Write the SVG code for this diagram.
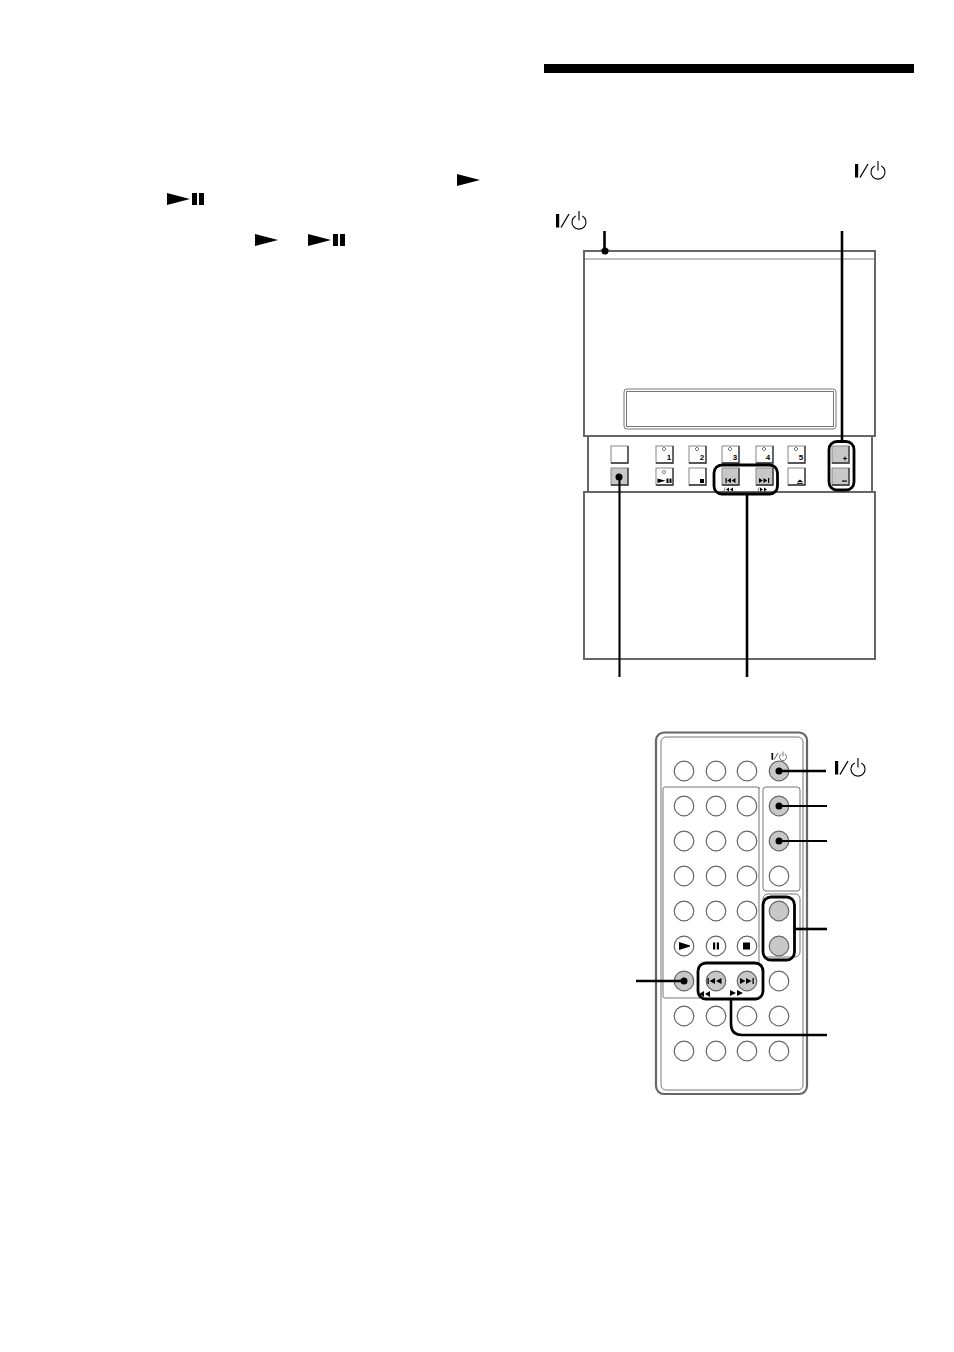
<svg xmlns="http://www.w3.org/2000/svg" xmlns:xlink="http://www.w3.org/1999/xlink" width="954" height="1352" viewBox="0 0 954 1352">
<style>
.body{fill:#fff;stroke:#666;stroke-width:2}
.thin{fill:none;stroke:#777;stroke-width:1}
.btn{fill:#fff;stroke:#888;stroke-width:1}
.edge{fill:none;stroke:#333;stroke-width:1.3}
.g{fill:#c8c8c8}
.rb{fill:#fff;stroke:#666;stroke-width:1.2}
.rg{fill:#c8c8c8;stroke:#666;stroke-width:1.2}
.k{fill:none;stroke:#000;stroke-width:2.6}
.ks{fill:none;stroke:#000;stroke-width:2.1}
.box{fill:none;stroke:#000;stroke-width:2.8}
.num{font:bold 8px "Liberation Sans",Arial,sans-serif;fill:#000;text-anchor:middle;opacity:.99}
.d{fill:none;stroke:#555;stroke-width:.8}
</style>
<defs>
<g id="power"><rect x="0" y="3" width="3.200" height="13.500" fill="#000"/><path d="M5 16.500L13 3" stroke="#000" stroke-width="1.300"/><path d="M19.700 5A7 7 0 1 0 26.300 5M23 0V9.500" fill="none" stroke="#000" stroke-width="1.100"/></g>
<path id="play" d="M0 0L23 6L0 12Z" fill="#000"/>
<g id="pp"><use xlink:href="#play"/><rect x="25" y="0" width="5" height="12" fill="#000"/><rect x="32" y="0" width="5" height="12" fill="#000"/></g>
<g id="b"><rect class="btn" width="17" height="17"/><path class="edge" d="M0 17H17V0"/></g>
<g id="bg"><rect class="btn g" width="17" height="17"/><path class="edge" d="M0 17H17V0"/></g>
<path id="dia" class="d" d="M0-2L2 0L0 2L-2 0Z"/>
<path id="prev" d="M0 0h1.200v5h-1.200zM5.500 0v5l-3.800-2.500zM10 0v5l-3.800-2.500z" fill="#000"/>
<path id="next" d="M0 0v5l3.800-2.500zM4.500 0v5l3.800-2.500zM9 0h1.200v5h-1.200z" fill="#000"/>
<circle id="r" class="rb" r="9.800"/>
<circle id="rg" class="rg" r="9.800"/>
</defs>

<rect id="title-bar" x="544" y="64" width="370" height="9" fill="#000"/>

<g id="inline-symbols">
<use xlink:href="#play" x="457" y="174"/>
<use xlink:href="#pp" x="167" y="193"/>
<use xlink:href="#play" x="255" y="234"/>
<use xlink:href="#pp" x="308" y="234"/>
<use xlink:href="#power" x="855" y="161"/>
<use xlink:href="#power" x="556" y="211"/>
</g>

<g id="unit">
<g id="unit-top"><rect class="body" x="584" y="251" width="291" height="185"/>
<path d="M585 259H874" stroke="#aaa" stroke-width="1.500"/>
<rect class="thin" x="624" y="389" width="212" height="40" rx="3"/>
<rect class="thin" x="626.500" y="391.500" width="207" height="35"/></g>
<g id="unit-mid"><path class="body" d="M588 436V492M872 436V492"/></g>
<g id="unit-bottom"><rect class="body" x="584" y="492" width="291" height="167"/></g>
<g id="unit-led"><rect x="600" y="249.500" width="10" height="2" rx="1" fill="#666"/></g>
<g id="unit-buttons">
<use xlink:href="#b" x="611" y="446"/>
<use xlink:href="#bg" x="611" y="468"/>
<use xlink:href="#b" x="656" y="446"/><use xlink:href="#dia" x="664" y="449"/><text class="num" x="669" y="460">1</text>
<use xlink:href="#b" x="689" y="446"/><use xlink:href="#dia" x="697" y="449"/><text class="num" x="702" y="460">2</text>
<use xlink:href="#b" x="722" y="446"/><use xlink:href="#dia" x="730" y="449"/><text class="num" x="735" y="460">3</text>
<use xlink:href="#b" x="756" y="446"/><use xlink:href="#dia" x="764" y="449"/><text class="num" x="768" y="460">4</text>
<use xlink:href="#b" x="788" y="446"/><use xlink:href="#dia" x="796" y="449"/><text class="num" x="801" y="460">5</text>
<use xlink:href="#b" x="656" y="468"/><use xlink:href="#dia" x="664" y="472"/>
<path d="M657.500 478.500l8 2.300l-8 2.300zM666.500 478.500h2v4.600h-2zM669.500 478.500h2v4.600h-2z" fill="#000"/>
<use xlink:href="#b" x="689" y="468"/><rect x="700" y="479" width="4" height="4" fill="#000"/>
<use xlink:href="#bg" x="722" y="468"/><use xlink:href="#prev" x="725.500" y="478"/>
<path d="M724 491l1.200-3.500" stroke="#000" stroke-width=".5"/><path d="M726 489.500l3-2v4zM730 489.500l3-2v4z" fill="#000"/>
<use xlink:href="#bg" x="756" y="468"/><use xlink:href="#next" x="759" y="478"/>
<path d="M758 491l1.200-3.500" stroke="#000" stroke-width=".5"/><path d="M760 487.500v4l3-2zM764 487.500v4l3-2z" fill="#000"/>
<use xlink:href="#b" x="788" y="468"/><path d="M800 479.500l3 2.500h-6zM797 482.800h6v1h-6z" fill="#000"/>
<use xlink:href="#bg" x="832" y="446"/><path d="M843 458.500h4M845 456.500v4" stroke="#000" stroke-width=".9"/>
<use xlink:href="#bg" x="832" y="468"/><rect x="842" y="480.500" width="5" height="1.200" fill="#000"/>
</g>
</g>

<g id="remote">
<rect x="656" y="732.500" width="151" height="361.500" rx="8" fill="#fff" stroke="#666" stroke-width="2.200"/>
<rect class="thin" x="661" y="737" width="142" height="353" rx="5"/>
<g id="remote-panels">
<path class="thin" d="M759 789a2 2 0 0 0-2-2H665a2 2 0 0 0-2 2V996a2 2 0 0 0 2 2H700M759 787V964"/>
<rect class="thin" x="763" y="787" width="37" height="104" rx="3"/>
<rect class="thin" x="763" y="894" width="37" height="63" rx="5"/>
</g>
<g id="remote-buttons">
<use xlink:href="#r" x="684" y="771"/><use xlink:href="#r" x="716" y="771"/><use xlink:href="#r" x="747" y="771"/><use xlink:href="#rg" x="779" y="771"/>
<use xlink:href="#r" x="684" y="806"/><use xlink:href="#r" x="716" y="806"/><use xlink:href="#r" x="747" y="806"/><use xlink:href="#rg" x="779" y="806"/>
<use xlink:href="#r" x="684" y="841"/><use xlink:href="#r" x="716" y="841"/><use xlink:href="#r" x="747" y="841"/><use xlink:href="#rg" x="779" y="841"/>
<use xlink:href="#r" x="684" y="876"/><use xlink:href="#r" x="716" y="876"/><use xlink:href="#r" x="747" y="876"/><use xlink:href="#r" x="779" y="876"/>
<use xlink:href="#r" x="684" y="911"/><use xlink:href="#r" x="716" y="911"/><use xlink:href="#r" x="747" y="911"/><use xlink:href="#rg" x="779" y="911"/>
<use xlink:href="#r" x="684" y="946"/><use xlink:href="#r" x="716" y="946"/><use xlink:href="#r" x="747" y="946"/><use xlink:href="#rg" x="779" y="946"/>
<use xlink:href="#rg" x="684" y="981"/><use xlink:href="#rg" x="716" y="981"/><use xlink:href="#rg" x="747" y="981"/><use xlink:href="#r" x="779" y="981"/>
<use xlink:href="#r" x="684" y="1016"/><use xlink:href="#r" x="716" y="1016"/><use xlink:href="#r" x="747" y="1016"/><use xlink:href="#r" x="779" y="1016"/>
<use xlink:href="#r" x="684" y="1051"/><use xlink:href="#r" x="716" y="1051"/><use xlink:href="#r" x="747" y="1051"/><use xlink:href="#r" x="779" y="1051"/>
<path d="M679 942l11 3.500v1l-11 3.500z" fill="#000"/>
<path d="M713 942.500h2.200v7h-2.200zM716.800 942.500h2.200v7h-2.200z" fill="#000"/>
<rect x="743" y="942.500" width="7" height="7" fill="#000"/>
<path d="M707.500 978h1.300v6h-1.300zM715 978v6l-5.500-3zM721.500 978v6l-5.500-3z" fill="#000"/>
<path d="M740 978v6l5.500-3zM746 978v6l5.500-3zM752.500 978h1.300v6h-1.300z" fill="#000"/>
<path d="M704 991v6l-5-3zM710 991v6l-5-3z" fill="#000"/>
<path d="M730 990v6l6-3zM737 990v6l6-3z" fill="#000"/>
</g>
<g id="remote-label"><use xlink:href="#power" transform="translate(771.500 751.500) scale(.5)"/></g>
</g>
<use id="remote-power-label" xlink:href="#power" x="835" y="758"/>

<g id="connectors">
<path class="k" d="M604.500 231V251"/>
<circle cx="605" cy="251" r="3.500"/>
<path class="k" d="M842 231V442"/>
<rect class="box" x="829" y="441.500" width="25" height="48.500" rx="8"/>
<rect class="box" x="714" y="465" width="63.500" height="29" rx="8"/>
<path class="k" d="M747 494V677"/>
<path class="ks" d="M619.500 477V677"/>
<circle cx="619" cy="477" r="3.500"/>

<path class="k" d="M779 771H826"/><circle cx="779" cy="771" r="3.500"/>
<path class="ks" d="M779 806H827"/><circle cx="779" cy="806" r="3.500"/>
<path class="ks" d="M779 841H827"/><circle cx="779" cy="841" r="3.500"/>
<rect class="box" x="763" y="897" width="31.500" height="63" rx="8"/>
<path class="k" d="M795 929H827"/>
<rect class="box" x="698" y="963" width="65" height="36" rx="8"/>
<path class="k" d="M731 999V1024Q731 1035 742 1035H827"/>
<path class="k" d="M636 981H684"/><circle cx="684" cy="981" r="3.500"/>
</g>
</svg>
